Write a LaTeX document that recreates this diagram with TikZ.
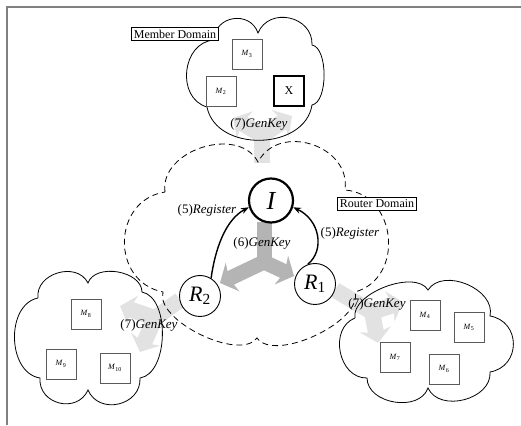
\documentclass[tikz,border=0pt]{standalone}
\usepackage{fontspec}
\setmainfont{Liberation Serif}
\usetikzlibrary{arrows.meta}
\definecolor{gkdark}{RGB}{180,180,180}
\definecolor{gklight}{RGB}{226,226,226}
\definecolor{framegray}{RGB}{128,128,128}
\definecolor{boxgray}{RGB}{90,90,90}
\begin{document}
\begin{tikzpicture}[x=1pt,y=1pt,
  bump/.style={bend left=80,looseness=#1},
  cloudline/.style={line width=0.8pt},
  mbox/.style={draw=boxgray,fill=white,minimum size=30pt,inner sep=0pt,line width=0.9pt,font=\fontsize{8}{8}\selectfont},
  xbox/.style={draw=black,fill=white,minimum size=30pt,inner sep=0pt,line width=1.8pt,font=\fontsize{12}{12}\selectfont},
  dombox/.style={draw,fill=white,line width=0.8pt,inner sep=2.5pt,font=\fontsize{12}{12}\selectfont},
  lbl/.style={font=\fontsize{13}{13}\selectfont,inner sep=1pt},
  rnode/.style={circle,draw,fill=white,line width=0.9pt,minimum size=41pt,inner sep=0pt,font=\fontsize{22}{22}\selectfont},
  inode/.style={circle,draw,fill=white,line width=2.2pt,minimum size=44pt,inner sep=0pt,font=\fontsize{26}{26}\selectfont\itshape},
  g6/.style={draw=gkdark,line width=15pt,line join=miter},
  g7/.style={draw=gklight,line width=16pt,line join=miter},
  gtip/.style={{Stealth[length=14pt,width=32pt,inset=4pt,line width=0pt]}-{Stealth[length=14pt,width=32pt,inset=4pt,line width=0pt]}},
  reg/.style={line width=1.4pt,-{Stealth[length=8pt,width=6pt]}}
]
\useasboundingbox (0,0) rectangle (521,425);
% frame
\draw[framegray,line width=1.5pt] (7,0) -- (7,418) -- (521,418);

% gray GenKey arrows
\coordinate (s6) at (264,203); \coordinate (j6) at (264,163);
\coordinate (l6) at (220,142); \coordinate (r6) at (294,149);
\draw[g6] (s6) -- (j6);
\draw[g6,gtip] (l6) -- (j6) -- (r6);

\coordinate (s7t) at (262,262); \coordinate (j7t) at (262,290);
\coordinate (a7t) at (233,307); \coordinate (b7t) at (292,309);
\draw[g7] (s7t) -- (j7t);
\draw[g7,gtip] (a7t) -- (j7t) -- (b7t);

\coordinate (s7l) at (180,125); \coordinate (j7l) at (155,107);
\coordinate (a7l) at (120,119); \coordinate (b7l) at (140,73);
\draw[g7] (s7l) -- (j7l);
\draw[g7,gtip] (a7l) -- (j7l) -- (b7l);

\coordinate (s7r) at (335,135); \coordinate (j7r) at (372,113);
\coordinate (a7r) at (403,123); \coordinate (b7r) at (378,82);
\draw[g7] (s7r) -- (j7r);
\draw[g7,gtip] (a7r) -- (j7r) -- (b7r);

% router domain (dashed cloud)
\coordinate (d6) at (165,233); \coordinate (d1) at (258,263);
\coordinate (d2) at (345,235); \coordinate (d3) at (355,133);
\coordinate (d4) at (257,87);  \coordinate (d5) at (163,133);
\draw[cloudline,dash pattern=on 6pt off 4pt]
  (d6) to[bump=1.1] (d1) to[bump=1.26] (d2) to[bump=1.3] (d3)
  to[bump=0.72] (d4) to[bump=0.72] (d5) to[bump=1.37] (d6);

% top member cloud
\coordinate (ta) at (214,385); \coordinate (tb) at (258,392);
\coordinate (tc) at (312,380); \coordinate (td) at (312,320);
\coordinate (te) at (207,318);
\draw[cloudline] (ta) to[bump=1.4] (tb) to[bump=1.34] (tc) to[bump=0.7] (td)
  to[bump=1.13] (te) to[bump=1.23] (ta);

% left member cloud
\coordinate (p1) at (38,127); \coordinate (p2) at (88,142);
\coordinate (p3) at (142,133); \coordinate (p4) at (140,47);
\coordinate (p5) at (88,35); \coordinate (p6) at (40,47);
\draw[cloudline] (p1) to[bump=1.22] (p2) to[bump=1.0] (p3) to[bump=0.86] (p4)
  to[bump=1.33] (p5) to[bump=1.37] (p6) to[bump=1.06] (p1);

% right member cloud
\coordinate (q1) at (355,107); \coordinate (q2) at (428,135);
\coordinate (q3) at (490,109); \coordinate (q4) at (490,53);
\coordinate (q5) at (428,37); \coordinate (q6) at (367,47);
\draw[cloudline] (q1) to[bump=0.81] (q2) to[bump=1.05] (q3) to[bump=1.45] (q4)
  to[bump=1.1] (q5) to[bump=1.08] (q6) to[bump=1.2] (q1);

% member boxes
\node[mbox] (m3) at (247,371) {\textit{M}\textsubscript{3}};
\node[mbox] (m2) at (221,334) {\textit{M}\textsubscript{2}};
\node[xbox] (mx) at (289,334) {X};
\node[mbox] (m8) at (86,111) {\textit{M}\textsubscript{8}};
\node[mbox] (m9) at (61,61) {\textit{M}\textsubscript{9}};
\node[mbox] (m10) at (115,57) {\textit{M}\textsubscript{10}};
\node[mbox] (m4) at (425,110) {\textit{M}\textsubscript{4}};
\node[mbox] (m5) at (469,98) {\textit{M}\textsubscript{5}};
\node[mbox] (m7) at (395,68) {\textit{M}\textsubscript{7}};
\node[mbox] (m6) at (444,56) {\textit{M}\textsubscript{6}};

% domain labels
\node[dombox] (memdom) at (175,391) {Member Domain};
\node[dombox] (rtdom) at (377,221) {Router Domain};

% routers
\node[inode] (I) at (271,224.5) {I};
\node[rnode] (R2) at (200,129) {\textit{R}\textsubscript{2}};
\node[rnode] (R1) at (315,141) {\textit{R}\textsubscript{1}};

% register arrows
\draw[reg] (R2.58) .. controls (215,175) and (225,205) .. (I.197);
\draw[reg] (R1.110) .. controls (325,175) and (320,205) .. (I.-17);

% labels
\node[lbl] (reg5l) at (207,215) {(5)\textit{Register}};
\node[lbl] (reg5r) at (350,192) {(5)\textit{Register}};
\node[lbl] (gk6) at (262,182) {(6)\textit{GenKey}};
\node[lbl] (gk7t) at (259,301) {(7)\textit{GenKey}};
\node[lbl] (gk7l) at (149,100) {(7)\textit{GenKey}};
\node[lbl] (gk7r) at (377,121) {(7)\textit{GenKey}};
\end{tikzpicture}
\end{document}
